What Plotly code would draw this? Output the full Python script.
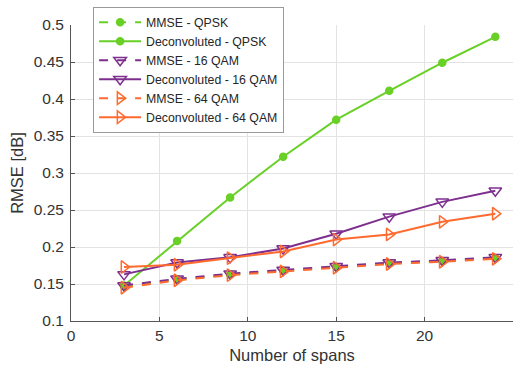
import plotly.graph_objects as go

spans = [3, 6, 9, 12, 15, 18, 21, 24]
mmse_qpsk = [0.147, 0.156, 0.163, 0.168, 0.173, 0.178, 0.181, 0.185]
deconv_qpsk = [0.148, 0.208, 0.267, 0.322, 0.372, 0.411, 0.449, 0.484]
mmse_16qam = [0.148, 0.157, 0.164, 0.169, 0.174, 0.179, 0.182, 0.186]
deconv_16qam = [0.163, 0.179, 0.186, 0.198, 0.218, 0.241, 0.261, 0.276]
mmse_64qam = [0.145, 0.155, 0.162, 0.167, 0.172, 0.177, 0.180, 0.184]
deconv_64qam = [0.173, 0.176, 0.185, 0.194, 0.210, 0.217, 0.234, 0.245]

x_ticks = [0, 5, 10, 15, 20, 25]
y_ticks = [0.1, 0.15, 0.2, 0.25, 0.3, 0.35, 0.4, 0.45, 0.5]
y_tick_text = ["0.1", "0.15", "0.2", "0.25", "0.3", "0.35", "0.4", "0.45", "0.5"]

GREEN = "#68D026"
PURPLE = "#7E2F8E"
ORANGE = "#FF6A2E"

fig = go.Figure()

def add(name, y, color, dash, symbol, size):
    fig.add_trace(go.Scatter(
        x=spans, y=y, name=name, mode="lines+markers",
        line=dict(color=color, width=2, dash=dash),
        marker=dict(symbol=symbol, size=size, color=color,
                    line=dict(color=color, width=1.5)),
    ))

add("MMSE - QPSK", mmse_qpsk, GREEN, "dash", "circle", 7)
add("Deconvoluted - QPSK", deconv_qpsk, GREEN, "solid", "circle", 7)
add("MMSE - 16 QAM", mmse_16qam, PURPLE, "dash", "triangle-down-open", 11)
add("Deconvoluted - 16 QAM", deconv_16qam, PURPLE, "solid", "triangle-down-open", 11)
add("MMSE - 64 QAM", mmse_64qam, ORANGE, "dash", "triangle-right-open", 11)
add("Deconvoluted - 64 QAM", deconv_64qam, ORANGE, "solid", "triangle-right-open", 11)

fig.update_layout(
    width=520, height=376,
    margin=dict(l=71, r=7, t=22, b=55),
    paper_bgcolor="white", plot_bgcolor="white",
    font=dict(family="Liberation Sans, Arial, sans-serif", size=13, color="#333333"),
    showlegend=True,
    legend=dict(
        x=0.05, y=1.062, xanchor="left", yanchor="top",
        bgcolor="white", bordercolor="#9a9a9a", borderwidth=1,
        font=dict(size=12.3, color="#262626"),
        tracegroupgap=0, itemwidth=42,
    ),
    xaxis=dict(
        range=[0, 25], tickvals=x_ticks, showgrid=True, gridcolor="#e3e3e3", gridwidth=1,
        showline=True, linecolor="#555555", linewidth=1, mirror=False,
        ticks="inside", ticklen=4, tickcolor="#555555",
        tickfont=dict(size=15.5),
        title=dict(text="Number of spans", font=dict(size=16.5), standoff=6),
        zeroline=False,
    ),
    yaxis=dict(
        range=[0.1, 0.5], tickvals=y_ticks, ticktext=y_tick_text, showgrid=True,
        gridcolor="#e3e3e3", gridwidth=1,
        showline=True, linecolor="#555555", linewidth=1, mirror=False,
        ticks="inside", ticklen=4, tickcolor="#555555",
        tickfont=dict(size=15.5), ticklabelstandoff=3,
        title=dict(text="RMSE [dB]", font=dict(size=16.5), standoff=5),
        zeroline=False,
    ),
)

fig.write_html("out.html")
